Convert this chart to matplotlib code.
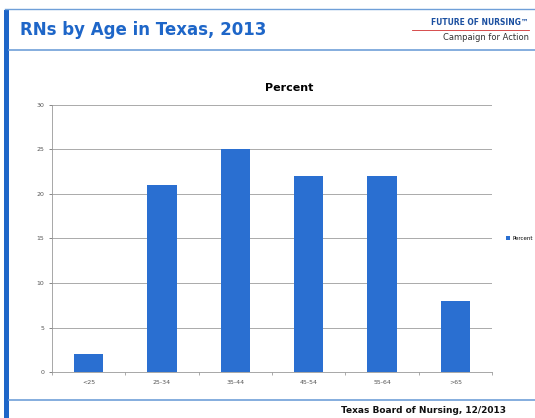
import matplotlib.pyplot as plt
from matplotlib.lines import Line2D
from matplotlib.patches import Rectangle

# Data
age_groups = ['<25', '25-34', '35-44', '45-54', '55-64', '>65']
percent = [2, 21, 25, 22, 22, 8]
y_ticks = [0, 5, 10, 15, 20, 25, 30]

blue = '#2a6fd1'
frame_blue = '#1e66c8'

fig = plt.figure(figsize=(5.35, 4.18), dpi=100)
fig.patch.set_facecolor('white')

# slide frame
fig.add_artist(Rectangle((0.008, 0.0), 0.009, 0.975, transform=fig.transFigure,
                         color=frame_blue, lw=0))
fig.add_artist(Line2D([0.01, 1.0], [0.978, 0.978], transform=fig.transFigure,
                      color='#6f9fd8', lw=1.0))
fig.add_artist(Line2D([0.017, 1.0], [0.88, 0.88], transform=fig.transFigure,
                      color='#6f9fd8', lw=1.2))
fig.add_artist(Line2D([0.017, 1.0], [0.043, 0.043], transform=fig.transFigure,
                      color='#6f9fd8', lw=1.2))

fig.text(0.038, 0.928, 'RNs by Age in Texas, 2013', color=frame_blue,
         fontsize=12, fontweight='bold', va='center', ha='left')
fig.text(0.988, 0.945, 'FUTURE OF NURSING\u2122', color='#1a4fa0',
         fontsize=6, fontweight='bold', ha='right', va='center',
         stretch='condensed')
fig.add_artist(Line2D([0.77, 0.988], [0.928, 0.928], transform=fig.transFigure,
                      color='#d03030', lw=0.6))
fig.text(0.988, 0.91, 'Campaign for Action', color='#333333',
         fontsize=6, ha='right', va='center')
fig.text(0.945, 0.018, 'Texas Board of Nursing, 12/2013', color='#111111',
         fontsize=6.5, fontweight='bold', ha='right', va='center')

# chart
ax = fig.add_axes([0.097, 0.110, 0.823, 0.639])
x = range(len(age_groups))
ax.bar(x, percent, width=0.4, color=blue, label='Percent', zorder=3)
ax.set_xlim(-0.5, len(age_groups) - 0.5)
ax.set_ylim(0, 30)
ax.set_yticks(y_ticks)
ax.set_xticks(list(x))
ax.set_xticklabels(age_groups)
ax.set_xticks([i + 0.5 for i in range(-1, len(age_groups))], minor=True)
ax.tick_params(axis='both', labelsize=4.5, colors='#555555', length=2, width=0.5)
ax.tick_params(axis='x', which='major', length=0, pad=6)
ax.tick_params(axis='x', which='minor', length=2, width=0.5, color='#888888')
ax.yaxis.grid(True, color='#888888', lw=0.5, zorder=0)
for side in ['top', 'right']:
    ax.spines[side].set_visible(False)
for side in ['left', 'bottom']:
    ax.spines[side].set_color('#999999')
    ax.spines[side].set_linewidth(0.6)
ax.set_title('Percent', fontsize=8, fontweight='bold', pad=10, x=0.54)

ax.legend(loc='center left', bbox_to_anchor=(1.02, 0.5), frameon=False,
          fontsize=4, handlelength=0.8, handleheight=0.8, handletextpad=0.4)

fig.savefig('out.png', dpi=100)
